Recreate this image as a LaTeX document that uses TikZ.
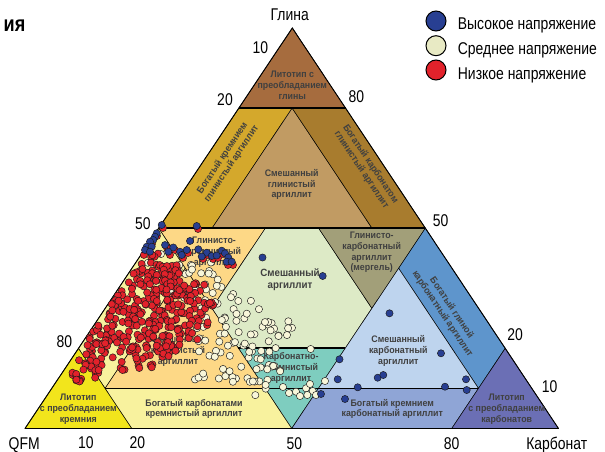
\documentclass[tikz,border=0pt]{standalone}
\usepackage{fontspec}
\setmainfont{Liberation Sans}
\newfontfamily\axfont{Liberation Sans}[FakeStretch=0.82]
\newfontfamily\labfont{Liberation Sans}[FakeStretch=0.93]

\definecolor{claydom}{HTML}{A66C3E}
\definecolor{siclay}{HTML}{D4A82C}
\definecolor{mixclay}{HTML}{C19B63}
\definecolor{carbclay}{HTML}{A87C2E}
\definecolor{orangez}{HTML}{FDD886}
\definecolor{paleyel}{HTML}{F8F29E}
\definecolor{sidom}{HTML}{F2E51C}
\definecolor{mixz}{HTML}{DDEAC6}
\definecolor{marl}{HTML}{A29F79}
\definecolor{carbsi}{HTML}{7ECDBF}
\definecolor{mixcarb}{HTML}{BED4EE}
\definecolor{claycarb}{HTML}{5E95CC}
\definecolor{sicarb}{HTML}{8FA5D6}
\definecolor{carbdom}{HTML}{6B6FB5}
\definecolor{highpt}{HTML}{283F92}
\definecolor{midpt}{HTML}{F8F6D9}
\definecolor{lowpt}{HTML}{E2222B}
\definecolor{legmid}{HTML}{E8EAC4}

\tikzset{
  zone/.style={draw=black, line width=0.5pt},
  border/.style={line width=1.8pt},
  zonelabel/.style={font=\labfont\bfseries\fontsize{9.5}{10.8}\selectfont, text=black!75, align=center, inner sep=0pt},
  ticklabel/.style={font=\axfont\fontsize{17}{20}\selectfont, inner sep=0pt, anchor=base},
  sample/.style={draw=black!90, line width=0.45pt},
  legdot/.style={circle, draw=black, line width=1pt, minimum size=20pt, inner sep=0pt},
}

\begin{document}
\begin{tikzpicture}[x=1pt,y=-1pt]
    \fill[white] (0,0) rectangle (605,452);
    \useasboundingbox (0,0) rectangle (605,452);

    % Corners
    \coordinate (Q) at (25,428.5);
    \coordinate (C) at (558.5,428.5);
    \coordinate (A) at (292.3,28);
    % Grid points p<QFM><carbonate><clay>, in tenths
    \foreach \q/\k/\c in {2/0/8,1/1/8,0/2/8,5/0/5,4/1/5,3/2/5,2/3/5,1/4/5,0/5/5,
        5/2/3,2/5/3,5/3/2,3/5/2,5/5/0,5/1/4,1/5/4,8/1/1,5/4/1,4/5/1,1/8/1,
        8/2/0,2/8/0,8/0/2,0/8/2}
        \coordinate (p\q\k\c) at (barycentric cs:Q=\q,C=\k,A=\c);

    % Regions
    \draw[zone, fill=claydom] (A) -- (p208) -- (p028) -- cycle;
    \draw[zone, fill=siclay] (p208) -- (p118) -- (p415) -- (p505) -- cycle;
    \draw[zone, fill=mixclay] (p118) -- (p415) -- (p145) -- cycle;
    \draw[zone, fill=carbclay] (p118) -- (p028) -- (p055) -- (p145) -- cycle;
    \draw[zone, fill=orangez] (p505) -- (p325) -- (p523) -- cycle;
    \draw[zone, fill=mixz] (p325) -- (p235) -- (p253) -- (p352) -- (p532) -- (p523) -- cycle;
    \draw[zone, fill=marl] (p235) -- (p055) -- (p253) -- cycle;
    \draw[zone, fill=carbsi] (p532) -- (p352) -- (p550) -- cycle;
    \draw[zone, fill=paleyel] (p802) -- (p505) -- (p514) -- (p811) -- cycle;
    \draw[zone, fill=orangez] (p514) -- (p811) -- (p541) -- cycle;
    \draw[zone, fill=paleyel] (p811) -- (p541) -- (p550) -- (p820) -- cycle;
    \draw[zone, fill=sidom] (Q) -- (p820) -- (p802) -- cycle;
    \draw[zone, fill=claycarb] (p055) -- (p082) -- (p181) -- (p154) -- cycle;
    \draw[zone, fill=mixcarb] (p154) -- (p181) -- (p451) -- cycle;
    \draw[zone, fill=sicarb] (p451) -- (p181) -- (p280) -- (p550) -- cycle;
    \draw[zone, fill=carbdom] (C) -- (p280) -- (p082) -- cycle;

    % Boundaries
    \draw[border] (p208) -- (p028);
    \draw[border] (p505) -- (p055);
    \draw[border] (p532) -- (p352);
    \draw[border] (p811) -- (p181);
    \draw[border] (Q) -- (C);
    \draw[line width=0.9pt] (Q) -- (A) -- (C);

    % Region names
    \node[zonelabel] (nclay) at (292.3,85) {Литотип с\\преобладанием\\глины};
    \node[zonelabel, rotate=56.3] (nsiclay) at (227,161) {Богатый кремнием\\глинистый аргиллит};
    \node[zonelabel] (nmixclay) at (291.7,184.5) {Смешанный\\глинистый\\аргиллит};
    \node[zonelabel, rotate=-56.3] (ncarbclay) at (366,167) {Богатый карбонатом\\глинистый аргиллит};
    \node[zonelabel] (nclaysi) at (214,252) {Глинисто-\\кремнистый\\аргиллит};
    \node[zonelabel, font=\labfont\bfseries\fontsize{10.5}{12.5}\selectfont] (nmix) at (290,279.5) {Смешанный\\аргиллит};
    \node[zonelabel] (nmarl) at (371.7,252.5) {Глинисто-\\карбонатный\\аргиллит\\(мергель)};
    \node[zonelabel, rotate=-56.3] (nclaycarb) at (447,311) {Богатый глиной\\карбонатный аргиллит};
    \node[zonelabel] (nmixcarb) at (398.3,351) {Смешанный\\карбонатный\\аргиллит};
    \node[zonelabel] (ncarbsi) at (291,368) {Карбонатно-\\кремнистый\\аргиллит};
    \node[zonelabel] (nmixsi) at (178,351) {Смешанный\\кремнистый\\аргиллит};
    \node[zonelabel] (nsi) at (78.3,409.5) {Литотип\\с преобладанием\\кремния};
    \node[zonelabel] (ncarbrich) at (194,409) {Богатый карбонатами\\кремнистый аргиллит};
    \node[zonelabel] (nsirich) at (392.3,409) {Богатый кремнием\\карбонатный аргиллит};
    \node[zonelabel] (ncarb) at (506.7,409.3) {Литотип\\с преобладанием\\карбонатов};

    % Samples
    \pgfmathsetseed{3}
    \foreach \ya/\yb/\xa/\w/\n in {252/275/135/80/16, 275/300/150/85/16, 300/320/185/77/16,
        320/340/195/97/24, 340/360/195/88/24, 360/380/190/92/22, 380/397/232/36/8} {
        \foreach \i in {1,...,\n} {
            \pgfmathsetmacro{\py}{\ya+rnd*(\yb-\ya)}
            \pgfmathsetmacro{\px}{\xa+rnd*\w}
            \draw[sample, fill=midpt] (\px,\py) circle (3.6pt);
        }
    }
    \foreach \x/\y in {310.7/349,296/391.7,306/388.3,310/384,312.7/391,307.3/395,325/381,
        300/396,316/395,283/387,289/393}
        \draw[sample, fill=midpt] (\x,\y) circle (3.6pt);
    \foreach \ya/\yb/\o/\w/\n in {253/265/3/25/8, 265/280/4/55/34, 280/300/3/85/62,
        300/320/3/103/78, 320/340/3/112/78, 340/358/3/100/60, 358/370/5/85/26, 370/382/10/28/14} {
        \foreach \i in {1,...,\n} {
            \pgfmathsetmacro{\py}{\ya+rnd*(\yb-\ya)}
            \pgfmathsetmacro{\px}{25+(428.5-\py)*0.6674+\o+rnd*\w}
            \draw[sample, fill=lowpt] (\px,\py) circle (3.6pt);
        }
    }
    \foreach \x/\y in {163/228,198/229,157/236,152/244,147/249,167/248,175/250,170/255,183/258,
        188/253,203/259,213/259,218/258,223/254,229/260,233/265,228/265,208/255}
        \draw[sample, fill=lowpt] (\x,\y) circle (3.6pt);
    \foreach \x/\y in {161.7/225,196.7/226,156.7/233.3,155/236.7,153.3/240,150/241.7,146.7/246.7,
        151.7/246.7,145/250,150/251.7,190/241,165/245,173.3/247.5,168.3/251.7,180/251.7,186.7/250,
        198.3/249.3,206.7/252.7,201.7/256.5,211.7/256,216.7/255.5,221.7/250.7,225/253.3,228.3/257.5,
        226.7/261.7,231.7/261.7,181.7/255,262.5/257.5,322.7/276,389.5/313.3,441/353.3,339.5/359.3,
        337.7/379.3,321/394,345/399,357.7/387.3,377.7/377.7,383.3/375,445/386.7,466/379.3,466.7/390}
        \draw[sample, fill=highpt] (\x,\y) circle (3.6pt);

    % Axis names and ticks
    \node[ticklabel] (tclay) at (289.7,20.7) {Глина};
    \node[ticklabel] (tqfm) at (24.2,449.3) {QFM};
    \node[ticklabel] (tcarb) at (556.7,449.5) {Карбонат};
    \foreach \t/\x/\y in {10/260.3/54, 20/225/105, 50/143/229, 80/64.5/347.5}
        \node[ticklabel] (left\t) at (\x,\y) {\t};
    \foreach \t/\x/\y in {80/356.3/102.3, 50/440.5/226, 20/515/340.7, 10/549.5/392.7}
        \node[ticklabel] (right\t) at (\x,\y) {\t};
    \foreach \t/\x/\y in {10/86/448.5, 20/137.3/448.5, 50/294.4/449.5, 80/451.7/449}
        \node[ticklabel] (bottom\t) at (\x,\y) {\t};

    % Legend
    \node[legdot, fill=highpt] (khigh) at (436,21) {};
    \node[legdot, fill=legmid] (kmid) at (436,45.7) {};
    \node[legdot, fill=lowpt] (klow) at (436,70) {};
    \node[ticklabel, anchor=base west] (thigh) at (457.7,30) {Высокое напряжение};
    \node[ticklabel, anchor=base west] (tmid) at (457.7,55) {Среднее напряжение};
    \node[ticklabel, anchor=base west] (tlow) at (457.7,79) {Низкое напряжение};

    % Title remnant
    \node[font=\axfont\bfseries\fontsize{22}{24}\selectfont, anchor=base east, inner sep=0pt] (title) at (25.5,31.7) {ия};
\end{tikzpicture}
\end{document}
